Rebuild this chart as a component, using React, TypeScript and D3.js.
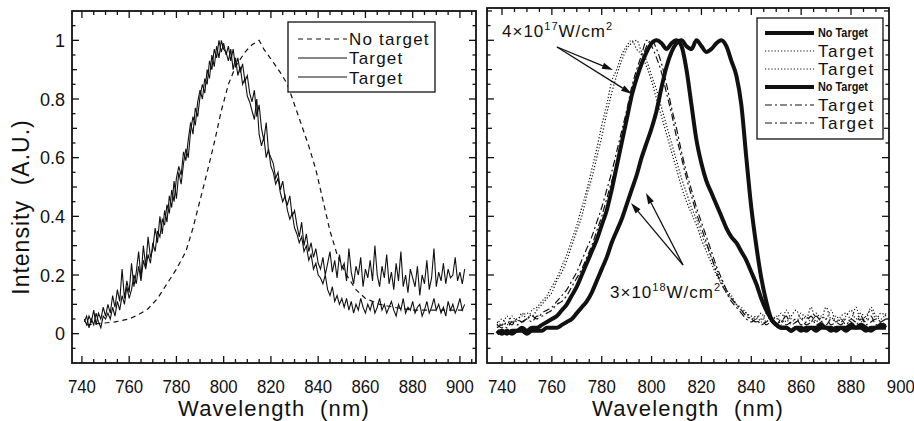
import React from "react";
import * as d3 from "d3";

const W = 914;
const H = 421;

// ---------- tick labels ----------
const xTickValues = [740, 760, 780, 800, 820, 840, 860, 880, 900];
const yTickValues = [0, 0.2, 0.4, 0.6, 0.8, 1];
const yTickText = ["0", "0.2", "0.4", "0.6", "0.8", "1"];

// ---------- left panel data ----------
const leftGrid = d3.range(741, 903, 1);
const leftTargetA = [
  0.05, 0.03, 0.06, 0.04, 0.08, 0.03, 0.07, 0.05, 0.09, 0.06,
  0.10, 0.07, 0.13, 0.09, 0.15, 0.11, 0.22, 0.12, 0.18, 0.14,
  0.24, 0.16, 0.21, 0.28, 0.19, 0.30, 0.23, 0.33, 0.26, 0.29,
  0.36, 0.31, 0.40, 0.34, 0.42, 0.38, 0.47, 0.43, 0.52, 0.46,
  0.55, 0.51, 0.58, 0.63, 0.60, 0.69, 0.74, 0.71, 0.79, 0.83,
  0.80, 0.87, 0.85, 0.93, 0.90, 0.97, 0.94, 1.0, 0.96, 0.99,
  0.95, 0.98, 0.93, 0.97, 0.91, 0.94, 0.89, 0.92, 0.86, 0.88,
  0.82, 0.79, 0.83, 0.74, 0.78, 0.70, 0.66, 0.72, 0.62, 0.60,
  0.58, 0.53, 0.55, 0.49, 0.52, 0.46, 0.44, 0.47, 0.40, 0.42,
  0.37, 0.33, 0.38, 0.30, 0.34, 0.28, 0.31, 0.26, 0.29, 0.24,
  0.22, 0.26, 0.20, 0.24, 0.28, 0.21, 0.25, 0.19, 0.27, 0.22,
  0.24, 0.18, 0.29, 0.21, 0.17, 0.23, 0.20, 0.26, 0.16, 0.22,
  0.19, 0.25, 0.18, 0.30, 0.20, 0.16, 0.23, 0.19, 0.27, 0.17,
  0.21, 0.15, 0.24, 0.18, 0.28, 0.16, 0.20, 0.14, 0.22, 0.19,
  0.16, 0.23, 0.13, 0.20, 0.17, 0.25, 0.15, 0.19, 0.29, 0.16,
  0.21, 0.18, 0.24, 0.17, 0.22, 0.19, 0.20, 0.26, 0.18, 0.21,
  0.17, 0.22,
];
const leftTargetB = [
  0.04, 0.06, 0.02, 0.05, 0.03, 0.07, 0.04, 0.02, 0.06, 0.05,
  0.07, 0.05, 0.09, 0.06, 0.11, 0.08, 0.13, 0.10, 0.16, 0.12,
  0.15, 0.20, 0.17, 0.23, 0.18, 0.25, 0.22, 0.27, 0.24, 0.31,
  0.28, 0.35, 0.33, 0.39, 0.37, 0.44, 0.41, 0.49, 0.45, 0.53,
  0.57, 0.54, 0.62, 0.59, 0.66, 0.72, 0.68, 0.77, 0.74, 0.81,
  0.85, 0.82, 0.90, 0.87, 0.95, 0.91, 0.98, 0.94, 1.0, 0.97,
  0.96, 0.93, 0.97, 0.90, 0.94, 0.88, 0.91, 0.85, 0.87, 0.81,
  0.79, 0.76, 0.73, 0.80, 0.68, 0.64, 0.67, 0.60, 0.63, 0.57,
  0.55, 0.51, 0.53, 0.48, 0.45, 0.47, 0.42, 0.39, 0.41, 0.36,
  0.34, 0.31, 0.33, 0.28, 0.30, 0.25, 0.27, 0.22, 0.24, 0.20,
  0.19, 0.17, 0.20, 0.15, 0.13, 0.16, 0.11, 0.13, 0.10, 0.12,
  0.09, 0.12, 0.08, 0.11, 0.07, 0.10, 0.08, 0.12, 0.09, 0.07,
  0.10, 0.08, 0.11, 0.07, 0.09, 0.12, 0.08, 0.10, 0.07, 0.09,
  0.11, 0.08, 0.06, 0.10, 0.08, 0.12, 0.07, 0.09, 0.08, 0.11,
  0.07, 0.09, 0.10, 0.06, 0.08, 0.11, 0.07, 0.09, 0.12, 0.08,
  0.10, 0.07, 0.09, 0.06, 0.11, 0.08, 0.10, 0.07, 0.09, 0.12,
  0.08, 0.10,
];
const leftNoTargetWl = [
  742, 748, 754, 760, 764, 768, 772, 776, 780, 784, 787, 790, 793, 796, 799,
  802, 805, 809, 812, 815, 817, 821, 824, 827, 830, 833, 836, 839, 842, 845,
  848, 852, 856, 860, 866, 872, 880, 890, 902,
];
const leftNoTarget = [
  0.03, 0.035, 0.04, 0.05, 0.065, 0.085, 0.12, 0.17, 0.22, 0.28, 0.36, 0.455,
  0.55, 0.65, 0.76, 0.85, 0.91, 0.96, 0.985, 1.0, 0.97, 0.925, 0.89, 0.85,
  0.78, 0.71, 0.64, 0.56, 0.455, 0.35, 0.27, 0.2, 0.15, 0.12, 0.1, 0.09, 0.08,
  0.08, 0.08,
];

// ---------- right panel data ----------
const rightGrid = d3.range(738, 895, 2);
const noTarget4e17 = [
  0.00, 0.01, 0.00, 0.01, 0.01, 0.02, 0.01, 0.02, 0.02, 0.03,
  0.04, 0.05, 0.06, 0.08, 0.10, 0.13, 0.16, 0.20, 0.24, 0.28,
  0.32, 0.37, 0.42, 0.49, 0.57, 0.65, 0.73, 0.81, 0.87, 0.92,
  0.96, 0.99, 1.00, 0.99, 0.97, 0.99, 1.00, 0.98, 0.90, 0.78,
  0.66, 0.58, 0.52, 0.48, 0.44, 0.40, 0.36, 0.33, 0.31, 0.28,
  0.25, 0.21, 0.17, 0.12, 0.08, 0.05, 0.03, 0.02, 0.02, 0.01,
  0.02, 0.02, 0.01, 0.02, 0.02, 0.03, 0.02, 0.02, 0.01, 0.02,
  0.02, 0.03, 0.02, 0.02, 0.01, 0.02, 0.02, 0.03, 0.02,
];
const noTarget3e18 = [
  0.01, 0.00, 0.01, 0.00, 0.01, 0.01, 0.00, 0.01, 0.01, 0.01,
  0.02, 0.02, 0.02, 0.03, 0.04, 0.05, 0.07, 0.09, 0.11, 0.14,
  0.18, 0.22, 0.26, 0.31, 0.35, 0.39, 0.44, 0.49, 0.54, 0.60,
  0.65, 0.70, 0.76, 0.84, 0.91, 0.96, 0.99, 1.00, 0.98, 0.97,
  1.00, 0.98, 0.96, 0.97, 0.99, 1.00, 0.98, 0.93, 0.88, 0.78,
  0.60, 0.43, 0.30, 0.19, 0.11, 0.05, 0.03, 0.02, 0.02, 0.01,
  0.02, 0.01, 0.02, 0.02, 0.01, 0.02, 0.02, 0.01, 0.02, 0.02,
  0.01, 0.02, 0.02, 0.03, 0.02, 0.01, 0.02, 0.02, 0.02,
];
const target4e17a = [
  0.03, 0.05, 0.03, 0.06, 0.04, 0.07, 0.05, 0.08, 0.09, 0.11,
  0.13, 0.16, 0.19, 0.23, 0.27, 0.32, 0.37, 0.43, 0.49, 0.56,
  0.63, 0.71, 0.78, 0.86, 0.90, 0.95, 0.98, 1.00, 0.97, 0.95,
  0.91, 0.86, 0.80, 0.74, 0.68, 0.62, 0.56, 0.50, 0.45, 0.41,
  0.37, 0.32, 0.28, 0.24, 0.20, 0.17, 0.14, 0.12, 0.10, 0.08,
  0.07, 0.05, 0.06, 0.04, 0.07, 0.04, 0.06, 0.03, 0.08, 0.05,
  0.04, 0.07, 0.05, 0.09, 0.04, 0.06, 0.05, 0.08, 0.04, 0.06,
  0.07, 0.05, 0.09, 0.04, 0.06, 0.08, 0.05, 0.07, 0.06,
];
const target4e17b = [
  0.04, 0.03, 0.06, 0.04, 0.05, 0.06, 0.07, 0.06, 0.08, 0.10,
  0.12, 0.14, 0.18, 0.21, 0.25, 0.30, 0.35, 0.40, 0.47, 0.53,
  0.60, 0.67, 0.75, 0.82, 0.88, 0.93, 0.97, 0.99, 1.00, 0.96,
  0.93, 0.88, 0.83, 0.77, 0.71, 0.65, 0.59, 0.53, 0.48, 0.43,
  0.39, 0.34, 0.30, 0.26, 0.22, 0.18, 0.15, 0.13, 0.10, 0.09,
  0.07, 0.06, 0.05, 0.07, 0.04, 0.06, 0.05, 0.07, 0.04, 0.06,
  0.08, 0.05, 0.06, 0.04, 0.07, 0.05, 0.09, 0.05, 0.06, 0.04,
  0.06, 0.08, 0.05, 0.07, 0.05, 0.09, 0.06, 0.05, 0.07,
];
const target3e18a = [
  0.02, 0.03, 0.02, 0.04, 0.03, 0.04, 0.05, 0.04, 0.06, 0.06,
  0.07, 0.08, 0.10, 0.11, 0.13, 0.16, 0.19, 0.22, 0.26, 0.30,
  0.35, 0.40, 0.46, 0.52, 0.58, 0.65, 0.72, 0.80, 0.87, 0.93,
  0.98, 1.00, 0.97, 0.92, 0.85, 0.77, 0.70, 0.62, 0.55, 0.49,
  0.43, 0.38, 0.33, 0.28, 0.23, 0.19, 0.15, 0.12, 0.10, 0.08,
  0.06, 0.05, 0.04, 0.05, 0.03, 0.04, 0.03, 0.05, 0.03, 0.04,
  0.05, 0.03, 0.04, 0.06, 0.03, 0.04, 0.05, 0.03, 0.04, 0.05,
  0.03, 0.05, 0.04, 0.06, 0.03, 0.04, 0.05, 0.04, 0.03,
];
const target3e18b = [
  0.03, 0.02, 0.04, 0.03, 0.05, 0.04, 0.05, 0.06, 0.05, 0.07,
  0.08, 0.09, 0.11, 0.13, 0.15, 0.18, 0.21, 0.25, 0.29, 0.33,
  0.38, 0.43, 0.49, 0.55, 0.62, 0.69, 0.76, 0.84, 0.90, 0.95,
  1.00, 0.98, 0.94, 0.89, 0.82, 0.75, 0.67, 0.60, 0.53, 0.47,
  0.41, 0.36, 0.31, 0.26, 0.21, 0.17, 0.14, 0.11, 0.09, 0.07,
  0.05, 0.04, 0.05, 0.03, 0.04, 0.05, 0.03, 0.04, 0.06, 0.03,
  0.04, 0.05, 0.03, 0.04, 0.06, 0.04, 0.03, 0.05, 0.04, 0.03,
  0.05, 0.04, 0.03, 0.05, 0.04, 0.06, 0.03, 0.04, 0.05,
];

const leftLegendLabels = ["No  target", "Target", "Target"];
const rightLegendLabels = ["No Target", "Target", "Target", "No Target", "Target", "Target"];

const FONT = "'Liberation Sans', Arial, Helvetica, sans-serif";
const INK = "#111";

type Frame = { x0: number; x1: number; y0: number; y1: number };

function Axes({ f, xs, ys, showYLabels }: { f: Frame; xs: d3.ScaleLinear<number, number>; ys: d3.ScaleLinear<number, number>; showYLabels: boolean }) {
  const xMinor = d3.range(740, 906, 5).filter((v) => xs(v) > f.x0 + 1 && xs(v) < f.x1 - 1);
  const yMinor = d3.range(-0.1, 1.11, 0.05).map((v) => Math.round(v * 100) / 100).filter((v) => ys(v) < f.y1 - 1 && ys(v) > f.y0 + 1);
  const els: React.ReactNode[] = [];
  xMinor.forEach((v, i) => {
    const major = Math.round(v) % 20 === 0;
    const len = major ? 7 : 4;
    const x = xs(v);
    els.push(<line key={"xb" + i} x1={x} x2={x} y1={f.y1} y2={f.y1 - len} stroke={INK} strokeWidth={1.3} />);
    els.push(<line key={"xt" + i} x1={x} x2={x} y1={f.y0} y2={f.y0 + len} stroke={INK} strokeWidth={1.3} />);
  });
  yMinor.forEach((v, i) => {
    const k = Math.round(v * 100);
    const len = k % 20 === 0 ? 7 : k % 10 === 0 ? 5 : 3.5;
    const y = ys(v);
    els.push(<line key={"yl" + i} x1={f.x0} x2={f.x0 + len} y1={y} y2={y} stroke={INK} strokeWidth={1.3} />);
    els.push(<line key={"yr" + i} x1={f.x1} x2={f.x1 - len} y1={y} y2={y} stroke={INK} strokeWidth={1.3} />);
  });
  return (
    <g>
      <rect x={f.x0} y={f.y0} width={f.x1 - f.x0} height={f.y1 - f.y0} fill="none" stroke={INK} strokeWidth={1.8} />
      {els}
      {xTickValues.map((v) => (
        <text key={"xl" + v} x={xs(v)} y={393} textAnchor="middle" fontFamily={FONT} fontSize={18} textLength={28} lengthAdjust="spacingAndGlyphs" fill={INK}>
          {v}
        </text>
      ))}
      {showYLabels &&
        yTickValues.map((v, i) => (
          <text key={"yl" + v} x={65} y={ys(v) + 6.5} textAnchor="end" fontFamily={FONT} fontSize={18} fill={INK}>
            {yTickText[i]}
          </text>
        ))}
      <text x={(f.x0 + f.x1) / 2} y={416} textAnchor="middle" fontFamily={FONT} fontSize={22} letterSpacing={1.2} fill={INK}>
        Wavelength{"\u00a0\u00a0"}(nm)
      </text>
    </g>
  );
}

function Arrow({ x1, y1, x2, y2 }: { x1: number; y1: number; x2: number; y2: number }) {
  const ang = Math.atan2(y2 - y1, x2 - x1);
  const L = 11;
  const Wd = 3.2;
  const bx = x2 - L * Math.cos(ang);
  const by = y2 - L * Math.sin(ang);
  const px = -Math.sin(ang) * Wd;
  const py = Math.cos(ang) * Wd;
  return (
    <g>
      <line x1={x1} y1={y1} x2={bx} y2={by} stroke={INK} strokeWidth={1.3} />
      <path d={`M${x2},${y2} L${bx + px},${by + py} L${bx - px},${by - py} Z`} fill={INK} />
    </g>
  );
}

export default function App() {
  const fL: Frame = { x0: 72, x1: 476, y0: 11, y1: 363 };
  const fR: Frame = { x0: 487, x1: 889, y0: 8, y1: 363 };
  const xL = d3.scaleLinear().domain([735.8, 906.8]).range([fL.x0, fL.x1]);
  const yL = d3.scaleLinear().domain([-0.1, 1.1]).range([fL.y1, fL.y0]);
  const xR = d3.scaleLinear().domain([733.98, 895.24]).range([fR.x0, fR.x1]);
  const yR = d3.scaleLinear().domain([-0.1, 1.11]).range([fR.y1, fR.y0]);

  const lineL = (xsArr: number[], vals: number[]) =>
    d3.line<number>().x((_, i) => xL(xsArr[i])).y((d) => yL(d))(vals) || "";
  const lineR = (vals: number[]) =>
    d3.line<number>().x((_, i) => xR(rightGrid[i])).y((d) => yR(d)).curve(d3.curveMonotoneX)(vals) || "";

  const legL = [
    { dash: "5,4", w: 1.2 },
    { dash: "none", w: 1.2 },
    { dash: "none", w: 1.2 },
  ];
  const legLy = [39, 58, 77];
  const legLtextY = [45, 64, 84];

  const legR = [
    { dash: "none", w: 4 },
    { dash: "1.2,2", w: 1.2 },
    { dash: "1.2,2", w: 1.2 },
    { dash: "none", w: 4 },
    { dash: "7,3,2,3", w: 1.2 },
    { dash: "7,3,2,3", w: 1.2 },
  ];
  const legRy = [33, 51, 69, 87, 105, 123];
  const legRtextY = [37, 57, 75, 91, 111, 129];

  return (
    <svg width={W} height={H} style={{ position: "absolute", left: 0, top: 0, background: "#fff" }}>
      <rect x={0} y={0} width={W} height={H} fill="#fff" />
      <defs>
        <clipPath id="clipL">
          <rect x={fL.x0} y={fL.y0} width={fL.x1 - fL.x0} height={fL.y1 - fL.y0} />
        </clipPath>
        <clipPath id="clipR">
          <rect x={fR.x0} y={fR.y0} width={fR.x1 - fR.x0} height={fR.y1 - fR.y0} />
        </clipPath>
      </defs>
      {/* Left panel */}
      <g clipPath="url(#clipL)">
        <path d={lineL(leftNoTargetWl, leftNoTarget)} fill="none" stroke={INK} strokeWidth={1.2} strokeDasharray="5,4" />
        <path d={lineL(leftGrid, leftTargetB)} fill="none" stroke={INK} strokeWidth={1.1} />
        <path d={lineL(leftGrid, leftTargetA)} fill="none" stroke={INK} strokeWidth={1.1} />
      </g>
      <Axes f={fL} xs={xL} ys={yL} showYLabels={true} />
      <rect x={288} y={22} width={147} height={70} fill="#fff" stroke={INK} strokeWidth={1.3} />
      {leftLegendLabels.map((t, i) => (
        <g key={"ll" + i}>
          <line x1={298} x2={347} y1={legLy[i]} y2={legLy[i]} stroke={INK} strokeWidth={legL[i].w} strokeDasharray={legL[i].dash} />
          <text x={349} y={legLtextY[i]} fontFamily={FONT} fontSize={17} letterSpacing={1.2} fill={INK}>
            {t}
          </text>
        </g>
      ))}
      <text
        transform="translate(29,207) rotate(-90)"
        textAnchor="middle"
        fontFamily={FONT}
        fontSize={23}
        letterSpacing={1}
        fill={INK}
      >
        Intensity{"\u00a0\u00a0"}(A.U.)
      </text>

      {/* Right panel */}
      <g clipPath="url(#clipR)">
        <path d={lineR(target4e17a)} fill="none" stroke={INK} strokeWidth={1.2} strokeDasharray="1.2,2" />
        <path d={lineR(target4e17b)} fill="none" stroke={INK} strokeWidth={1.2} strokeDasharray="1.2,2" />
        <path d={lineR(target3e18a)} fill="none" stroke={INK} strokeWidth={1.2} strokeDasharray="7,3,2,3" />
        <path d={lineR(target3e18b)} fill="none" stroke={INK} strokeWidth={1.2} strokeDasharray="7,3,2,3" />
        <path d={lineR(noTarget4e17)} fill="none" stroke={INK} strokeWidth={4} strokeLinejoin="round" />
        <path d={lineR(noTarget3e18)} fill="none" stroke={INK} strokeWidth={4} strokeLinejoin="round" />
      </g>
      <Axes f={fR} xs={xR} ys={yR} showYLabels={false} />
      <rect x={757} y={18} width={126} height={121} fill="#fff" stroke={INK} strokeWidth={1.3} />
      {rightLegendLabels.map((t, i) => (
        <g key={"rl" + i}>
          <line x1={765} x2={814} y1={legRy[i]} y2={legRy[i]} stroke={INK} strokeWidth={legR[i].w} strokeDasharray={legR[i].dash} />
          {t === "No Target" ? (
            <text x={818} y={legRtextY[i]} fontFamily={FONT} fontSize={12} fontWeight="bold" textLength={50} lengthAdjust="spacingAndGlyphs" fill={INK}>
              {t}
            </text>
          ) : (
            <text x={818} y={legRtextY[i]} fontFamily={FONT} fontSize={17} letterSpacing={1.6} fill={INK}>
              {t}
            </text>
          )}
        </g>
      ))}

      {/* Annotations */}
      <text x={502} y={37} fontFamily={FONT} fontSize={17} letterSpacing={1} fill={INK}>
        4×10
        <tspan fontSize={11} dy={-7}>17</tspan>
        <tspan dy={7}>W/cm</tspan>
        <tspan fontSize={11} dy={-7}>2</tspan>
      </text>
      <Arrow x1={557} y1={47} x2={613} y2={70} />
      <Arrow x1={557} y1={47} x2={632} y2={94} />

      <text x={610} y={298} fontFamily={FONT} fontSize={17} letterSpacing={1} fill={INK}>
        3×10
        <tspan fontSize={11} dy={-7}>18</tspan>
        <tspan dy={7}>W/cm</tspan>
        <tspan fontSize={11} dy={-7}>2</tspan>
      </text>
      <Arrow x1={683} y1={265} x2={631} y2={203} />
      <Arrow x1={683} y1={265} x2={646} y2={193} />
    </svg>
  );
}
